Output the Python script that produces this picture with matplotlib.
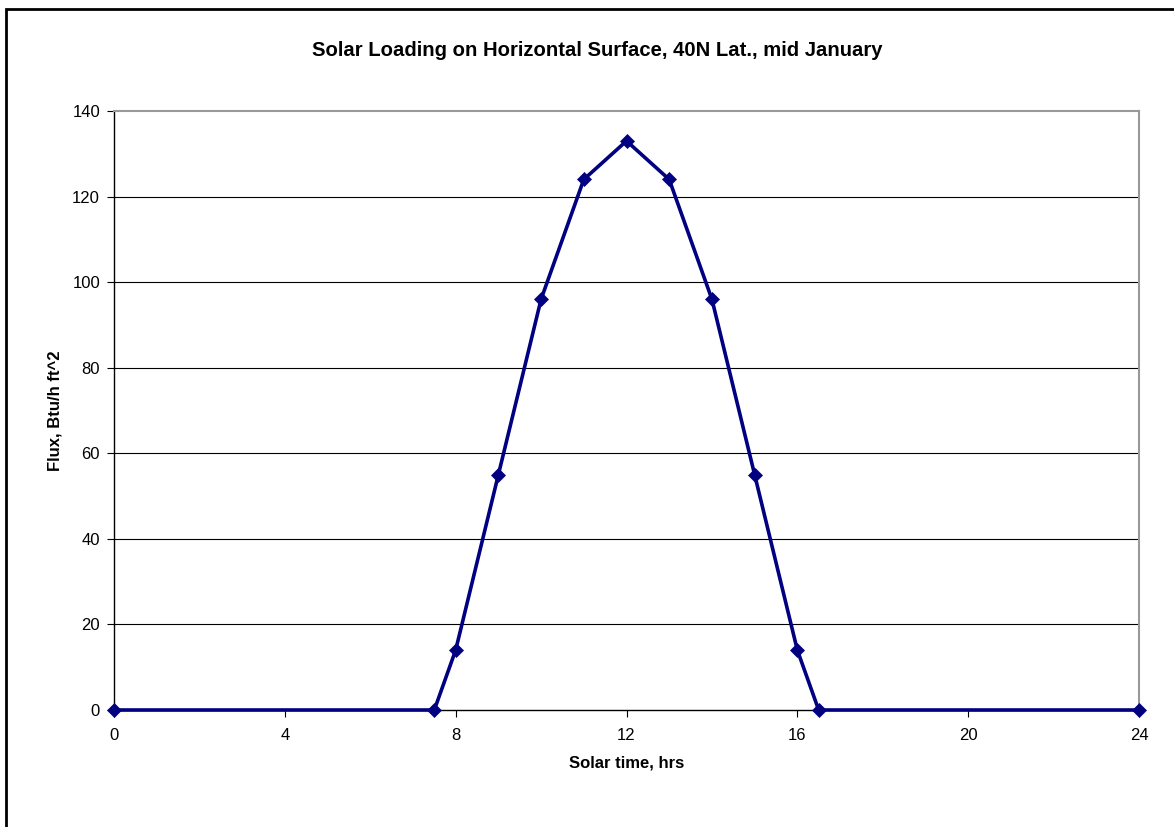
import matplotlib

matplotlib.use("Agg")

import matplotlib.pyplot as plt
from matplotlib.patches import Rectangle

# Hourly solar flux on a horizontal surface, 40N latitude, mid January
solar_time = [0, 7.5, 8, 9, 10, 11, 12, 13, 14, 15, 16, 16.5, 24]
flux = [0, 0, 14, 55, 96, 124, 133, 124, 96, 55, 14, 0, 0]

x_ticks = [0, 4, 8, 12, 16, 20, 24]
y_ticks = [0, 20, 40, 60, 80, 100, 120, 140]

plt.rcParams["font.family"] = ["Liberation Sans", "DejaVu Sans"]

W, H = 1174, 827
fig = plt.figure(figsize=(W / 100, H / 100), dpi=100)

# chart frame (only left and top edges fall inside the image)
fig.patches.append(Rectangle((6 / W, -0.1), 1.2, 1.1 - 9 / H, transform=fig.transFigure,
                             fill=False, edgecolor="black", linewidth=2.0))

ax = fig.add_axes([114 / W, 1 - 710 / H, (1139 - 114) / W, (710 - 111) / H])

ax.set_xlim(0, 24)
ax.set_ylim(0, 140)
ax.set_xticks(x_ticks)
ax.set_yticks(y_ticks)

for y in y_ticks[1:-1]:
    ax.axhline(y, color="black", linewidth=0.8, zorder=1)

ax.plot(solar_time, flux, color="#000080", linewidth=2.6, marker="D", markersize=7.0,
        markerfacecolor="#000080", markeredgecolor="#000080", markeredgewidth=0.5,
        clip_on=False, zorder=3)

for side in ("top", "right"):
    ax.spines[side].set_color("#999999")
    ax.spines[side].set_linewidth(1.5)
for side in ("left", "bottom"):
    ax.spines[side].set_color("black")
    ax.spines[side].set_linewidth(1.0)

ax.tick_params(axis="both", direction="out", length=5, width=0.8, color="black",
               labelsize=12, pad=5)
ax.tick_params(axis="x", pad=8)

fig.text(597 / W, 1 - 51 / H, "Solar Loading on Horizontal Surface, 40N Lat., mid January",
         fontsize=14.6, fontweight="bold", ha="center", va="center")

ax.set_xlabel("Solar time, hrs", fontsize=12, fontweight="bold", va="center")
ax.xaxis.set_label_coords(0.5, -(763 - 710) / (710 - 111))
ax.set_ylabel("Flux, Btu/h ft^2", fontsize=12, fontweight="bold", va="center")
ax.yaxis.set_label_coords(-(114 - 55) / (1139 - 114), 0.5)

fig.savefig("out.png", dpi=100)
